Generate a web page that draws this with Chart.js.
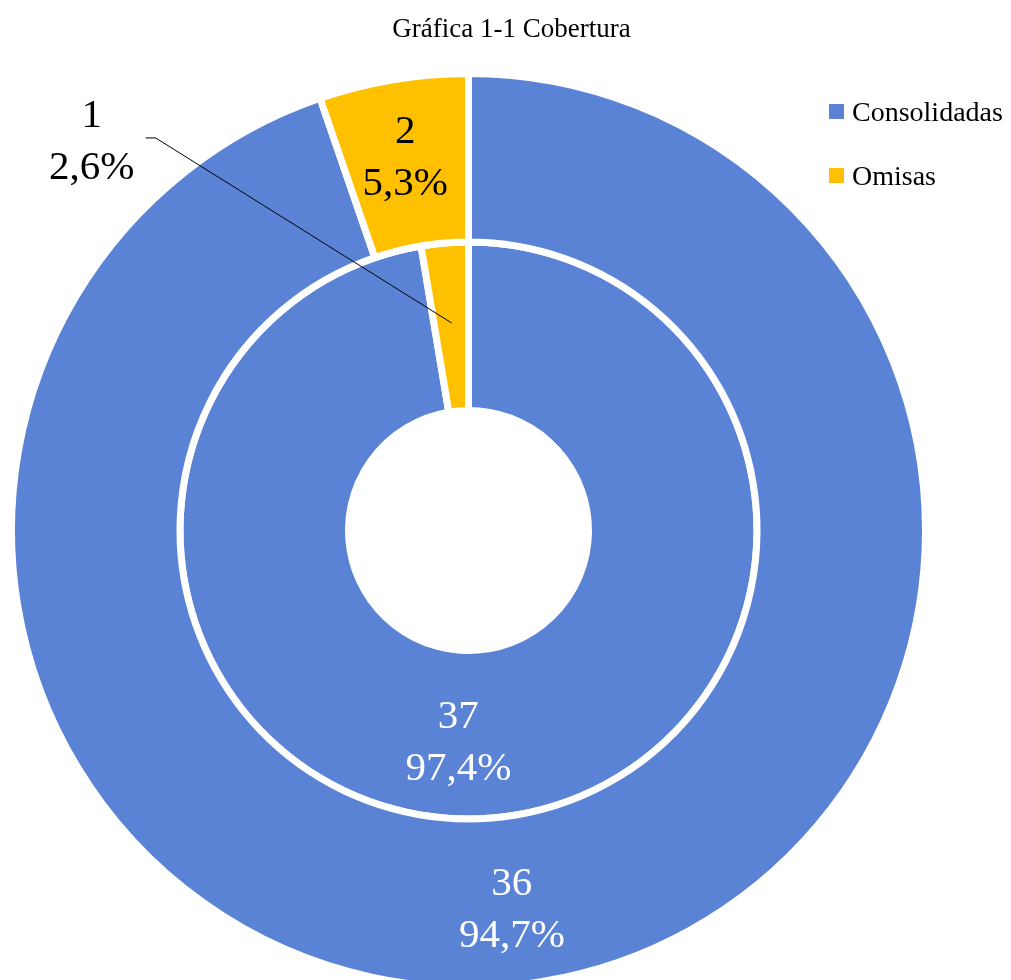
<!DOCTYPE html>
<html><head><meta charset="utf-8">
<script src="https://cdn.jsdelivr.net/npm/chart.js@4/dist/chart.umd.min.js"></script>
<style>html,body{margin:0;padding:0;background:#fff;overflow:hidden}</style>
</head><body>
<canvas id="c" width="1011" height="980"></canvas>
<script>
// ---- data ----
const titleText = 'Gráfica 1-1 Cobertura';
const categories = ['Consolidadas', 'Omisas'];
const outerValues = [36, 2];   // outer ring
const innerValues = [37, 1];   // inner ring

// ---- styles ----
const FONT = "'Liberation Serif','Times New Roman',serif";
const sliceColors = ['#5A83D6', '#FFC000'];
const BORDER = 7;
const OUTER_R = 457;
const INNER_R = 120;

// per-dataset, per-slice label placement relative to slice centroid
const labelPlacement = [
  [ {dx: -18, dy: 9, color: '#ffffff'}, {dx: -2, dy: -7, color: '#000000'} ],
  [ {dx: -27, dy: 6.5, color: '#ffffff'}, {dx: -360, dy: -187, color: '#000000', leader: true} ]
];

function pct(v, arr) {
  const t = arr.reduce((a, b) => a + b, 0);
  return (v / t * 100).toFixed(1).replace('.', ',') + '%';
}

const decorPlugin = {
  id: 'decor',
  afterDatasetsDraw(chart) {
    const ctx = chart.ctx;
    ctx.save();
    // labels
    chart.data.datasets.forEach((ds, di) => {
      const meta = chart.getDatasetMeta(di);
      meta.data.forEach((arc, i) => {
        const p = arc.getProps(['x', 'y', 'startAngle', 'endAngle', 'innerRadius', 'outerRadius'], true);
        const a = (p.startAngle + p.endAngle) / 2;
        const r = (p.innerRadius + p.outerRadius) / 2;
        const cx = p.x + Math.cos(a) * r;
        const cy = p.y + Math.sin(a) * r;
        const pl = labelPlacement[di][i];
        const ax = cx + pl.dx, ay = cy + pl.dy;
        const lines = [String(ds.data[i]), pct(ds.data[i], ds.data)];
        ctx.font = '41px ' + FONT;
        ctx.fillStyle = pl.color;
        ctx.textAlign = 'center';
        ctx.textBaseline = 'alphabetic';
        const lh = 52;
        lines.forEach((t, k) => {
          ctx.fillText(t, ax, ay + (k - (lines.length - 1) / 2) * lh + 13.5);
        });
        if (pl.leader) {
          ctx.beginPath();
          ctx.strokeStyle = '#000';
          ctx.lineWidth = 1;
          ctx.moveTo(ax + 54, ay - 2);
          ctx.lineTo(ax + 64, ay - 2);
          ctx.lineTo(cx, cy - 4);
          ctx.stroke();
        }
      });
    });
    // title
    ctx.font = '27px ' + FONT;
    ctx.fillStyle = '#000';
    ctx.textAlign = 'center';
    ctx.textBaseline = 'alphabetic';
    ctx.fillText(titleText, 511.5, 37);
    // legend
    ctx.font = '28px ' + FONT;
    ctx.textAlign = 'left';
    categories.forEach((c, i) => {
      const y = 104 + i * 64;
      ctx.fillStyle = sliceColors[i];
      ctx.fillRect(829, y, 15, 15);
      ctx.fillStyle = '#000';
      ctx.fillText(c, 852, y + 17);
    });
    ctx.restore();
  }
};

new Chart(document.getElementById('c'), {
  type: 'doughnut',
  data: {
    labels: categories,
    datasets: [
      { label: 'Exterior', data: outerValues, backgroundColor: sliceColors, borderColor: '#ffffff', borderWidth: BORDER, hoverOffset: 0, clip: false },
      { label: 'Interior', data: innerValues, backgroundColor: sliceColors, borderColor: '#ffffff', borderWidth: BORDER, hoverOffset: 0, clip: false }
    ]
  },
  options: {
    responsive: false,
    animation: false,
    events: [],
    devicePixelRatio: 1,
    radius: OUTER_R,
    cutout: (INNER_R / OUTER_R * 100) + '%',
    layout: { padding: { left: 0, right: 74, top: 81, bottom: 0 } },
    plugins: {
      legend: { display: false },
      title: { display: false },
      tooltip: { enabled: false }
    }
  },
  plugins: [decorPlugin]
});
</script>
</body></html>
